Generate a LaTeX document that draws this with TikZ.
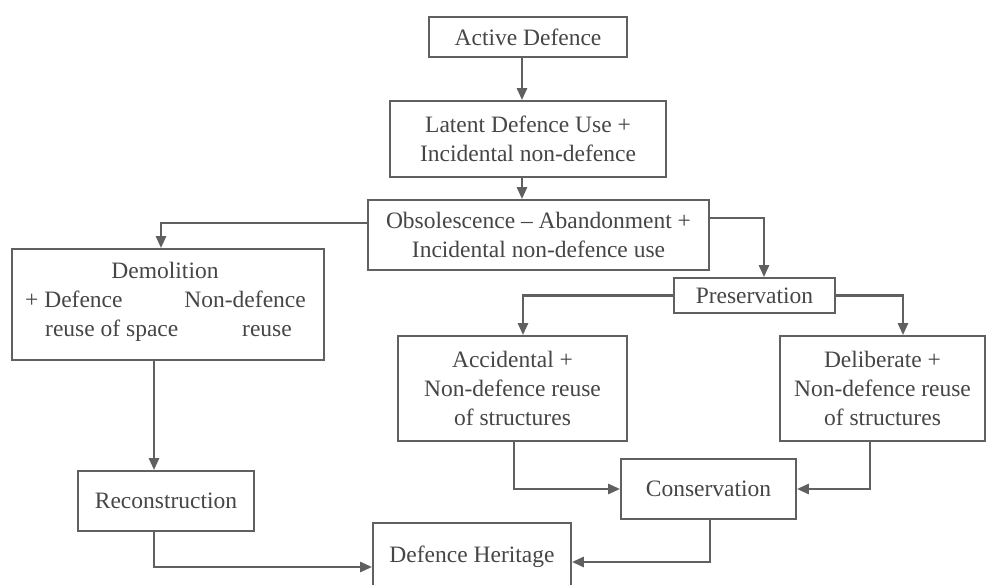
\documentclass[tikz,border=0pt]{standalone}
\usepackage{fontspec}
\setmainfont{Liberation Serif}
\usetikzlibrary{arrows.meta}
\definecolor{ink}{HTML}{464646}
\definecolor{edge}{HTML}{606060}
\begin{document}
\begin{tikzpicture}[x=1pt,y=-1pt,
  box/.style={draw=edge,line width=1.8pt,inner sep=0pt,align=center,text=ink,
    font=\fontsize{23.5}{29}\selectfont},
  txt/.style={inner sep=0pt,text=ink,font=\fontsize{23.5}{29}\selectfont},
  arr/.style={draw=edge,line width=2.6pt,-{Triangle[length=12pt,width=10pt]}}]
\clip (0,0) rectangle (997,585);
\fill[white] (0,0) rectangle (997,585);
% boxes
\node[box,minimum width=198pt,minimum height=40pt] (act) at (528,37) {Active Defence};
\node[box,minimum width=276pt,minimum height=76pt] (lat) at (528,139) {Latent Defence Use +\\Incidental non-defence};
\node[box,minimum width=341pt,minimum height=70pt] (obs) at (538.5,235) {Obsolescence -- Abandonment +\\Incidental non-defence use};
\node[box,minimum width=312pt,minimum height=111pt] (dem) at (168,304.5) {};
\node[txt,anchor=base] (demA) at (165,279) {Demolition};
\node[txt,anchor=base west] (demB) at (25,308) {+ Defence};
\node[txt,anchor=base east] (demC) at (306,308) {Non-defence};
\node[txt,anchor=base west] (demD) at (45,337) {reuse of space};
\node[txt,anchor=base east] (demE) at (292,337) {reuse};
\node[box,minimum width=161pt,minimum height=35pt] (pres) at (754.5,295.5) {Preservation};
\node[box,minimum width=229pt,minimum height=105pt] (acc) at (512.5,388.5) {Accidental +\\Non-defence reuse\\of structures};
\node[box,minimum width=205pt,minimum height=105pt] (del) at (882.5,388.5) {Deliberate +\\Non-defence reuse\\of structures};
\node[box,minimum width=176pt,minimum height=60pt] (rec) at (166,501) {Reconstruction};
\node[box,minimum width=175pt,minimum height=60pt] (cons) at (708.5,489) {Conservation};
\node[box,minimum width=198pt,minimum height=68pt] (dh) at (472,557) {Defence Heritage};
% connectors
\draw[arr] ([xshift=-6pt]act.south) -- ([xshift=-6pt]lat.north);
\draw[arr] ([xshift=-6pt]lat.south) -- ([xshift=-6pt]lat.south |- obs.north);
\draw[arr] ([yshift=12pt]obs.west) -| ([xshift=-7pt]dem.north);
\draw[arr] ([yshift=17pt]obs.east) -| ([xshift=9.5pt]pres.north);
\draw[arr] (pres.west) -| ([xshift=10.5pt]acc.north);
\draw[arr] (pres.east) -| ([xshift=20.5pt]del.north);
\draw[arr] ([xshift=-14pt]dem.south) -- ([xshift=-14pt]dem.south |- rec.north);
\draw[arr] ([xshift=-12pt]rec.south) |- ([yshift=-10pt]dh.west);
\draw[arr] ([xshift=1.5pt]acc.south) |- (cons.west);
\draw[arr] ([xshift=-12.5pt]del.south) |- (cons.east);
\draw[arr] ([xshift=1.5pt]cons.south) |- ([yshift=-5pt]dh.east);
\end{tikzpicture}
\end{document}
